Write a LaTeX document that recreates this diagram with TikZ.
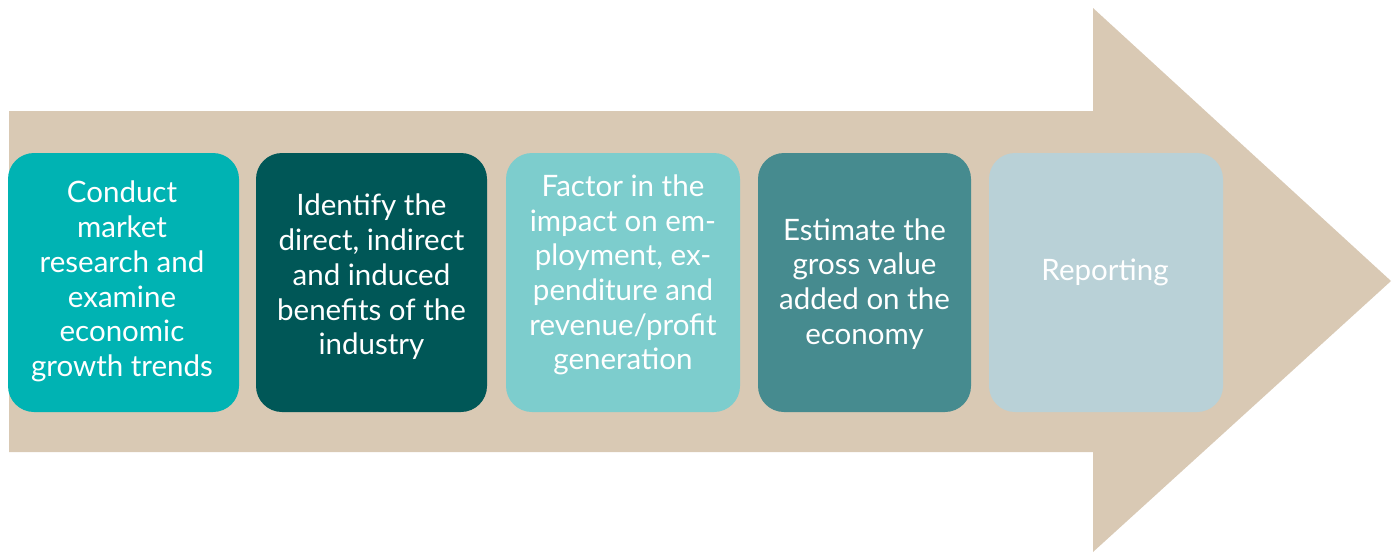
\documentclass[tikz,border=0pt]{standalone}
\usepackage{fontspec}
\setmainfont{Lato}
\definecolor{arrowc}{HTML}{D9C9B4}
\definecolor{ca}{HTML}{00B3B3}
\definecolor{cb}{HTML}{005757}
\definecolor{cc}{HTML}{7DCDCD}
\definecolor{cd}{HTML}{468B8F}
\definecolor{ce}{HTML}{B9D1D7}
\tikzset{
  stepbox/.style={rounded corners=26pt, inner sep=0pt, draw=none},
  steptext/.style={text=white, align=center, inner sep=0pt, font=\fontsize{29.5}{34.7}\selectfont}
}
\begin{document}
\begin{tikzpicture}[x=1pt,y=-1pt]
\useasboundingbox (0,0) rectangle (1395,552);
\fill[arrowc] (9,111) -- (1093,111) -- (1093,8) -- (1391,281) -- (1093,552) -- (1093,452) -- (9,452) -- cycle;
\fill[ca, stepbox] (8,153) rectangle (239,412);
\fill[cb, stepbox] (256,153) rectangle (487,412);
\fill[cc, stepbox] (506,153) rectangle (740,412);
\fill[cd, stepbox] (758,153) rectangle (971,412);
\fill[ce, stepbox] (989,153) rectangle (1223,412);
\node[steptext] (t1) at (122,281.5) {Conduct\\market\\research and\\examine\\economic\\growth trends};
\node[steptext] (t2) at (371.5,277) {Identify the\\direct, indirect\\and induced\\benefits of the\\industry};
\node[steptext] (t3) at (623,275) {Factor in the\\impact on em-\\ployment, ex-\\penditure and\\revenue/profit\\generation};
\node[steptext] (t4) at (864.5,284) {Estimate the\\gross value\\added on the\\economy};
\node[steptext] (t5) at (1105,272) {Reporting};
\end{tikzpicture}
\end{document}
